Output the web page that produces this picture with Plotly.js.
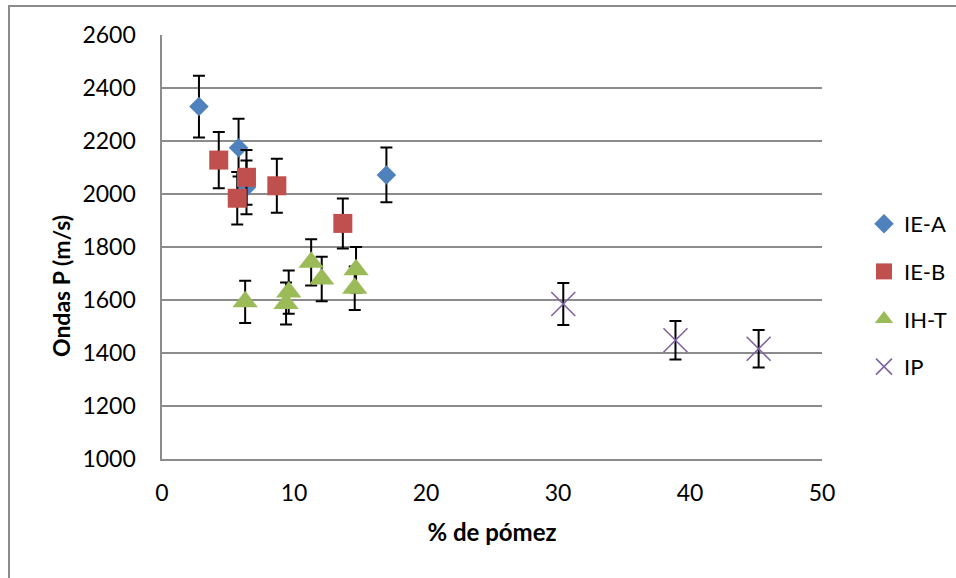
<!DOCTYPE html>
<html>
<head>
<meta charset="utf-8">
<script src="https://cdn.plot.ly/plotly-3.0.1.min.js"></script>
<style>
  html, body { margin: 0; padding: 0; background: #ffffff; }
  #chart { width: 956px; height: 578px; }
  #frame { position: absolute; left: 8px; top: 5px; width: 960px; height: 590px;
           border-left: 2px solid #8c8c8c; border-top: 2px solid #8c8c8c;
           pointer-events: none; z-index: 5; }
</style>
</head>
<body>
<div id="frame"></div>
<div id="chart"></div>
<script>
// Data
const seriesNames = ["IE-A", "IE-B", "IH-T", "IP"];

const ieA_x = [2.8, 5.8, 6.4, 17.0];
const ieA_y = [2330, 2175, 2025, 2072];

const ieB_x = [4.3, 6.4, 5.7, 8.7, 13.7];
const ieB_y = [2128, 2063, 1984, 2031, 1889];

const ihT_x = [6.3, 9.6, 9.4, 11.3, 12.1, 14.7, 14.6];
const ihT_y = [1593, 1630, 1587, 1742, 1679, 1714, 1644];

const ip_x = [30.4, 38.9, 45.2];
const ip_y = [1585, 1448, 1416];

const errorPercent = 5;

const xTitle = "% de pómez";
const yTitle = "Ondas P (m/s)";

const FONT = "Lato, 'Open Sans', sans-serif";

function errBar() {
  return { type: 'percent', value: errorPercent, color: '#000000', thickness: 2, width: 6 };
}

const traces = [
  { x: ieA_x, y: ieA_y, name: seriesNames[0], legendgroup: 'a', type: 'scatter', mode: 'markers',
    marker: { symbol: 'diamond', size: 15, color: '#4F81BD' }, error_y: errBar() },
  { x: ieB_x, y: ieB_y, name: seriesNames[1], legendgroup: 'b', type: 'scatter', mode: 'markers',
    marker: { symbol: 'square', size: 19, color: '#C0504D' }, error_y: errBar() },
  { x: ihT_x, y: ihT_y, name: seriesNames[2], legendgroup: 'c', type: 'scatter', mode: 'markers',
    marker: { symbol: 'triangle-up', size: 22, color: '#9BBB59' }, error_y: errBar() },
  { x: ip_x, y: ip_y, name: seriesNames[3], legendgroup: 'd', type: 'scatter', mode: 'markers',
    marker: { symbol: 'x-thin-open', size: 24, color: '#8064A2', line: { color: '#8064A2', width: 1.6 } },
    error_y: errBar() }
];

const layout = {
  width: 956, height: 578,
  margin: { l: 162, r: 134, t: 35, b: 119 },
  paper_bgcolor: 'rgba(0,0,0,0)',
  plot_bgcolor: '#ffffff',
  font: { family: FONT, size: 22, color: '#000000' },
  showlegend: true,
  legend: {
    xref: 'container', yref: 'container',
    x: 864 / 956, xanchor: 'left', y: 1 - 203 / 578, yanchor: 'top',
    font: { family: FONT, size: 22, color: '#000000' },
    tracegroupgap: 16, itemwidth: 30, bgcolor: 'rgba(0,0,0,0)'
  },
  xaxis: {
    range: [0, 50], dtick: 10, tick0: 0,
    showgrid: false, zeroline: false,
    showline: true, linecolor: '#8c8c8c', linewidth: 1.6,
    ticks: '', ticklabelstandoff: 13,
    tickfont: { family: FONT, size: 23, color: '#000000' },
    title: { text: xTitle, font: { family: FONT, size: 24, color: '#000000', weight: 'bold' }, standoff: 19 }
  },
  yaxis: {
    range: [1000, 2600], dtick: 200, tick0: 1000,
    showgrid: true, gridcolor: '#8c8c8c', gridwidth: 1.6,
    zeroline: false,
    showline: true, linecolor: '#8c8c8c', linewidth: 1.6,
    ticks: '', ticklabelstandoff: 20,
    tickfont: { family: FONT, size: 23, color: '#000000' }
  },
  annotations: [{
    text: yTitle, textangle: -90, showarrow: false,
    xref: 'paper', yref: 'paper', x: (61 - 162) / 660, y: (459 - 286) / 424,
    xanchor: 'center', yanchor: 'middle',
    font: { family: FONT, size: 23, color: '#000000', weight: 'bold' }
  }]
};

Plotly.newPlot('chart', traces, layout, { displayModeBar: false, staticPlot: true });
</script>
</body>
</html>
